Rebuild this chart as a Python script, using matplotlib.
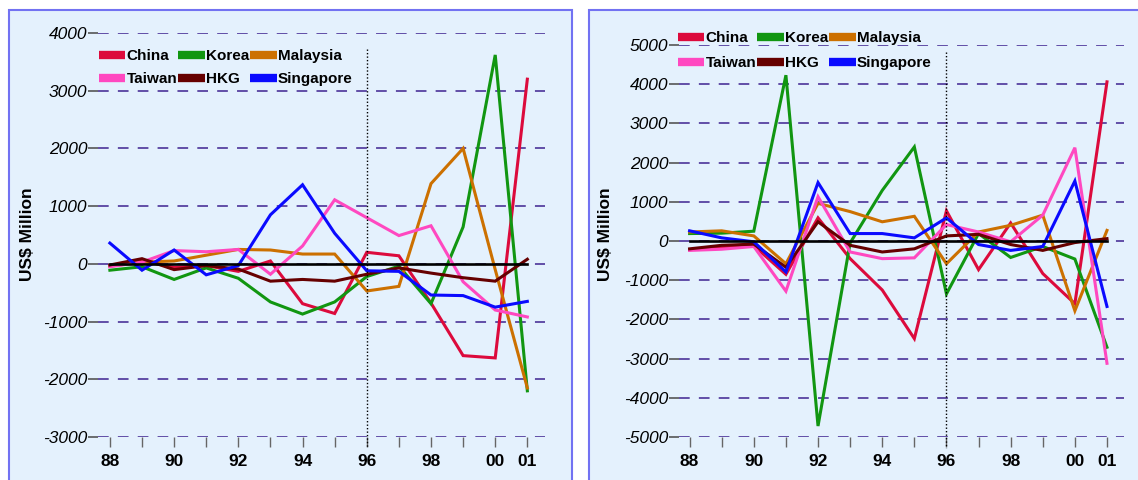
import numpy as np
import matplotlib
matplotlib.use("Agg")
import matplotlib.pyplot as plt
from matplotlib.patches import Rectangle
from matplotlib.lines import Line2D
from matplotlib import font_manager

plt.rcParams['font.family'] = ['Liberation Sans', 'DejaVu Sans']
_names = {f.name for f in font_manager.fontManager.ttflist}
NARROW = 'Liberation Sans Narrow' in _names

# ---------------- data ----------------
years = list(range(88, 102))
year_labels = ['88', '', '90', '', '92', '', '94', '', '96', '', '98', '', '00', '01']
series_names = ['China', 'Korea', 'Malaysia', 'Taiwan', 'HKG', 'Singapore']
series_colors = ['#dc0a3c', '#119611', '#cc7000', '#ff48c0', '#660000', '#0a0aff']

# left panel
china_l = [-30, 50, -60, -30, -130, 50, -690, -860, 200, 140, -680, -1590, -1630, 3200]
korea_l = [-110, -50, -270, -70, -250, -660, -870, -660, -220, -40, -690, 640, 3620, -2200]
malaysia_l = [-40, 30, 50, 150, 250, 240, 170, 170, -470, -390, 1390, 2000, -100, -2150]
taiwan_l = [-50, 30, 230, 210, 250, -180, 310, 1110, 800, 490, 660, -310, -800, -920]
hkg_l = [-20, 90, -100, -30, -90, -300, -270, -300, -180, -70, -160, -240, -300, 80]
singapore_l = [360, -110, 240, -190, -30, 850, 1370, 530, -120, -130, -540, -550, -750, -650]

# right panel
china_r = [-220, -170, -120, -850, 590, -450, -1250, -2490, 770, -730, 460, -830, -1600, 4060]
korea_r = [190, 200, 250, 4230, -4720, -50, 1290, 2400, -1350, 190, -420, -140, -460, -2710]
malaysia_r = [230, 260, 130, -580, 960, 750, 490, 630, -580, 230, 400, 660, -1780, 270]
taiwan_r = [-240, -210, -140, -1280, 1130, -280, -450, -430, 420, 230, -20, 660, 2380, -3120]
hkg_r = [-200, -110, -80, -670, 490, -110, -280, -200, 130, 170, -90, -240, -40, 60]
singapore_r = [260, 80, -20, -790, 1490, 190, 190, 80, 590, -90, -240, -140, 1530, -1670]

left_ticks = [4000, 3000, 2000, 1000, 0, -1000, -2000, -3000]
right_ticks = [5000, 4000, 3000, 2000, 1000, 0, -1000, -2000, -3000, -4000, -5000]
ylabel = 'US$ Million'

W, H = 1138, 480
fig = plt.figure(figsize=(W / 100, H / 100), dpi=100)
fig.patch.set_facecolor('white')

# panel backgrounds
for x0, x1 in [(9, 572), (589, 1150)]:
    fig.patches.append(Rectangle((x0 / W, -0.05), (x1 - x0) / W, (H - 10) / H + 0.05,
                                 transform=fig.transFigure, facecolor='#e4f1fd',
                                 edgecolor='#7272f2', linewidth=1.5, zorder=-10))

GRID = '#3e2290'
if NARROW:
    leg_prop = {'family': 'Liberation Sans Narrow', 'weight': 'bold', 'size': 12.5}
else:
    leg_prop = {'weight': 'bold', 'size': 11}


def draw_panel(rect, xlim, ylim, ticks, data, vline_y, legend_anchor, ylabel_x,
               lspace):
    ax = fig.add_axes(rect)
    ax.set_facecolor('none')
    for s in ax.spines.values():
        s.set_visible(False)
    ax.set_xlim(*xlim)
    ax.set_ylim(*ylim)
    for t in ticks:
        ax.axhline(t, color=GRID, lw=1.1, dashes=(7, 6), zorder=1)
    ax.plot([years[0], years[-1]], [0, 0], color='black', lw=1.9, zorder=5)
    handles = []
    for name, col, vals in zip(series_names, series_colors, data):
        ax.plot(years, vals, color=col, lw=2.2, zorder=3, solid_joinstyle='miter')
        handles.append(Line2D([0], [0], color=col, lw=6, solid_capstyle='butt'))
    ax.plot([96, 96], vline_y, color='black', lw=1.0, ls=(0, (1, 1.5)),
            clip_on=False, zorder=6)
    ax.set_xticks(years)
    ax.set_xticklabels(year_labels, fontsize=12.5, fontweight='bold')
    ax.set_yticks(ticks)
    ax.set_yticklabels([str(t) for t in ticks], fontsize=12.5, fontstyle='italic')
    ax.tick_params(axis='x', length=7, width=1, color='#666666', pad=5.5)
    ax.tick_params(axis='y', length=7.5, width=1.2, color='#555555', pad=0.3)
    order = [0, 3, 1, 4, 2, 5]
    fig.legend([handles[i] for i in order], [series_names[i] for i in order],
               ncol=3, loc='upper left', bbox_to_anchor=legend_anchor,
               bbox_transform=fig.transFigure, frameon=False,
               prop=leg_prop, handlelength=1.72,
               handletextpad=0.08, columnspacing=0.08, labelspacing=lspace,
               borderpad=0, borderaxespad=0)
    fig.text(ylabel_x / W, 1 - 234 / H, ylabel, rotation=90, fontsize=12.5,
             fontweight='bold', ha='center', va='center')
    return ax


draw_panel([98 / W, 43 / H, 447 / W, 404 / H], (87.63, 101.55), (-3000, 4000),
           left_ticks, [china_l, korea_l, malaysia_l, taiwan_l, hkg_l, singapore_l],
           [3730, -3180], (99 / W, 1 - 49 / H), 28, 0.6)
draw_panel([679 / W, 43 / H, 445 / W, 392 / H], (87.67, 101.53), (-5000, 5000),
           right_ticks, [china_r, korea_r, malaysia_r, taiwan_r, hkg_r, singapore_r],
           [4830, -5270], (678 / W, 1 - 31 / H), 606, 0.72)

fig.savefig('out.png', dpi=100)
